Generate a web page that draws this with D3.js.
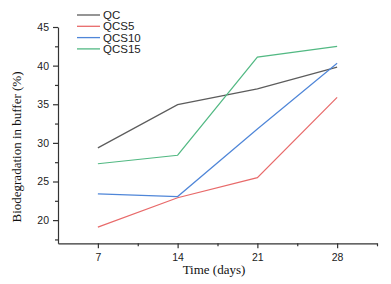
<!DOCTYPE html>
<html>
<head>
<meta charset="utf-8">
<script src="https://cdn.jsdelivr.net/npm/d3@7"></script>
<style>
  body { margin: 0; background: #fff; }
  .tick text { font-family: 'Liberation Sans', Arial, sans-serif; font-size: 10.5px; fill: #222; }
  .title { font-family: 'Liberation Serif', 'Times New Roman', serif; font-size: 13px; fill: #111; }
  .legend text { font-family: 'Liberation Sans', Arial, sans-serif; font-size: 11.5px; fill: #222; }
</style>
</head>
<body>
<svg id="chart"></svg>
<script>
// Data
const days = [7, 14, 21, 28];
const seriesNames = ['QC', 'QCS5', 'QCS10', 'QCS15'];
const qc = [29.35, 34.95, 37.0, 39.8];
const qcs5 = [19.1, 22.9, 25.5, 35.9];
const qcs10 = [23.4, 23.05, 31.8, 40.3];
const qcs15 = [27.3, 28.4, 41.1, 42.5];
const yTicks = [20, 25, 30, 35, 40, 45];
const colors = ['#5c5c5c', '#e86a6a', '#4f86d8', '#52b983'];

const values = [qc, qcs5, qcs10, qcs15];

const W = 391, H = 284;
const margin = { top: 27, left: 58, right: 14, bottom: 41 };

const svg = d3.select('#chart').attr('width', W).attr('height', H);

const x = d3.scaleLinear().domain([3.5, 31.5]).range([margin.left, W - margin.right]);
const y = d3.scaleLinear().domain([17, 45]).range([H - margin.bottom + 0.3, margin.top]);

// Minor ticks
const xMinor = d3.range(10.5, 31.6, 7);
const yMinor = d3.range(17.5, 45, 5);

svg.append('g')
  .attr('transform', `translate(0, ${y(17)})`)
  .call(d3.axisBottom(x).tickValues(xMinor).tickSize(3).tickFormat(''))
  .call((g) => g.select('.domain').remove());

svg.append('g')
  .attr('class', 'x-axis')
  .attr('transform', `translate(0, ${y(17)})`)
  .call(d3.axisBottom(x).tickValues(days).tickSize(5).tickSizeOuter(0).tickPadding(5));

svg.append('g')
  .attr('transform', `translate(${x(3.5)}, 0)`)
  .call(d3.axisLeft(y).tickValues(yMinor).tickSize(3).tickFormat(''))
  .call((g) => g.select('.domain').remove());

svg.append('g')
  .attr('class', 'y-axis')
  .attr('transform', `translate(${x(3.5)}, 0)`)
  .call(d3.axisLeft(y).tickValues(yTicks).tickSize(5).tickSizeOuter(0).tickPadding(4));

svg.selectAll('.domain, .tick line').attr('stroke', '#333').attr('stroke-width', 1.2);

// Lines
const line = d3.line().x((d, i) => x(days[i])).y((d) => y(d));

svg.append('g')
  .selectAll('path')
  .data(values)
  .join('path')
  .attr('fill', 'none')
  .attr('stroke', (d, i) => colors[i])
  .attr('stroke-width', 1.2)
  .attr('d', line);

// Legend
const legend = svg.append('g').attr('class', 'legend').attr('transform', 'translate(77, 15)');
const rows = legend.selectAll('g')
  .data(seriesNames)
  .join('g')
  .attr('transform', (d, i) => `translate(0, ${i * 11.3})`);
rows.append('line')
  .attr('x1', 0).attr('x2', 23)
  .attr('stroke', (d, i) => colors[i])
  .attr('stroke-width', 1.3);
rows.append('text')
  .attr('x', 26).attr('y', 4)
  .text((d) => d);

// Axis titles
svg.append('text')
  .attr('class', 'title')
  .attr('x', 214).attr('y', 274)
  .attr('text-anchor', 'middle')
  .text('Time (days)');

svg.append('text')
  .attr('class', 'title')
  .attr('transform', 'translate(21, 147) rotate(-90)')
  .attr('text-anchor', 'middle')
  .text('Biodegradation in buffer (%)');
</script>
</body>
</html>
